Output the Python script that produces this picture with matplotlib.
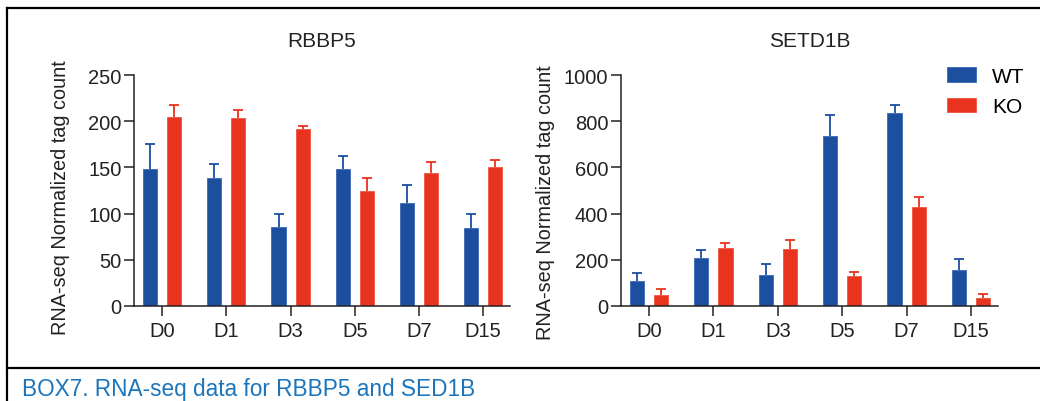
import matplotlib
matplotlib.use("Agg")
import matplotlib.pyplot as plt
import numpy as np
from matplotlib.lines import Line2D

plt.rcParams['font.family'] = ['Liberation Sans', 'DejaVu Sans']

days = ["D0", "D1", "D3", "D5", "D7", "D15"]
series = ["WT", "KO"]

rbbp5_wt = [148, 138, 86, 148, 111, 84]
rbbp5_wt_err = [27, 16, 14, 14, 20, 16]
rbbp5_ko = [205, 203, 192, 124, 144, 150]
rbbp5_ko_err = [13, 9, 2.5, 14, 12, 7.5]

setd1b_wt = [107, 206, 133, 735, 837, 157]
setd1b_wt_err = [34, 35, 47, 92, 33, 48]
setd1b_ko = [48, 252, 248, 130, 428, 35]
setd1b_ko_err = [24, 20, 36, 18, 42, 17]

blue = "#1d4f9f"
red = "#e8331f"

fig = plt.figure(figsize=(10.4, 4.02), dpi=100)
H = 402.0
W = 1040.0

def upper_err(ax, xs, vals, errs, color):
    cont = ax.errorbar(xs, vals, yerr=[np.zeros(len(vals)), errs], fmt='none',
                       ecolor=color, elinewidth=1.3, capsize=3.3, capthick=1.3, zorder=1)
    caps = cont[1]
    if len(caps) == 2:
        caps[0].set_visible(False)

def make_ax(left_px, right_px, title, wt, wt_err, ko, ko_err, ymax, yticks, lab_x, lab_y):
    ax = fig.add_axes([left_px / W, 1 - 307 / H, (right_px - left_px) / W, 231 / H])
    x = np.arange(len(days))
    off = 0.1875
    bw = 0.22
    ax.bar(x - off, wt, bw, color=blue, edgecolor="#3a68b5", linewidth=0.6, label=series[0], zorder=2)
    ax.bar(x + off, ko, bw, color=red, edgecolor="#f0553f", linewidth=0.6, label=series[1], zorder=2)
    upper_err(ax, x - off, wt, wt_err, blue)
    upper_err(ax, x + off, ko, ko_err, red)
    ax.set_xlim(-0.44, 5.42)
    ax.set_ylim(0, ymax)
    ax.set_yticks(yticks)
    ax.set_xticks(x)
    ax.set_xticklabels(days)
    ax.spines['top'].set_visible(False)
    ax.spines['right'].set_visible(False)
    for s in ['left', 'bottom']:
        ax.spines[s].set_linewidth(1.1)
        ax.spines[s].set_color("#222222")
        ax.spines[s].set_zorder(3)
    ax.tick_params(axis='y', length=7.5, width=1.1, pad=1.5, labelsize=14.5, colors="#222222")
    ax.tick_params(axis='x', length=7, width=1.1, pad=3.5, labelsize=14.5, colors="#222222")
    ax.set_title(title, fontsize=15, pad=21, color="#222222")
    ax.set_ylabel("RNA-seq Normalized tag count", fontsize=14.3, color="#222222")
    ax.yaxis.set_label_coords(lab_x, lab_y)
    return ax

ax1 = make_ax(134, 510, "RBBP5", rbbp5_wt, rbbp5_wt_err, rbbp5_ko, rbbp5_ko_err,
              250, [0, 50, 100, 150, 200, 250], -0.170, 0.474)
ax2 = make_ax(620.7, 998, "SETD1B", setd1b_wt, setd1b_wt_err, setd1b_ko, setd1b_ko_err,
              1000, [0, 200, 400, 600, 800, 1000], -0.174, 0.45)

handles, labels = ax2.get_legend_handles_labels()
fig.legend(handles, labels, loc='upper left', bbox_to_anchor=(947 / W, 1 - 68 / H),
           frameon=False, fontsize=15, borderpad=0, borderaxespad=0,
           handlelength=1.4, handleheight=0.7, handletextpad=0.75, labelspacing=0.55)

# box borders
lw = 1.6
fig.add_artist(Line2D([7 / W, 1], [1 - 9 / H, 1 - 9 / H], color="black", linewidth=lw))
fig.add_artist(Line2D([7 / W, 7 / W], [0, 1 - 9 / H], color="black", linewidth=lw))
fig.add_artist(Line2D([7 / W, 1], [1 - 369 / H, 1 - 369 / H], color="black", linewidth=lw))

fig.text(22 / W, 1 - 396 / H, "BOX7. RNA-seq data for RBBP5 and SED1B", fontsize=16.3,
         color="#1b75bc", ha='left', va='baseline')

fig.savefig("out.png", dpi=100)
